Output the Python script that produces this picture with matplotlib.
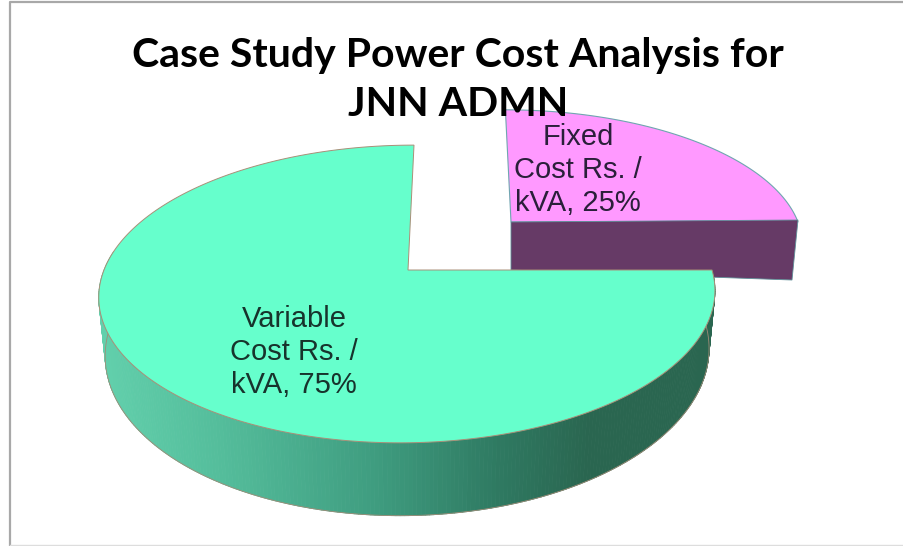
import numpy as np
import matplotlib
matplotlib.use('Agg')
import matplotlib.pyplot as plt
from matplotlib.collections import PolyCollection
from matplotlib.colors import LinearSegmentedColormap

labels = ['Fixed\nCost Rs. /\nkVA', 'Variable\nCost Rs. /\nkVA']
values = [25, 75]
title = 'Case Study Power Cost Analysis for\nJNN ADMN'


def project(ang, r, cx, cy, rx, ry, k, shear):
    # tilted disc seen in perspective, returns pixel coords
    u = r * np.cos(ang)
    v = r * np.sin(ang)
    w = 1 + k * v
    return cx + (rx * u + shear * ry * v) / w, cy - ry * v / w, v, w


# slice angles come from the values, clockwise from 12 o'clock
sweep = np.radians(np.array(values) / sum(values) * 360)
a_fixed = np.linspace(np.pi / 2, np.pi / 2 - sweep[0], 80)
a_var = np.linspace(np.pi / 2 - sweep[0], np.pi / 2 - sweep[0] - sweep[1], 400)

fig = plt.figure(figsize=(9.04, 5.46), dpi=100)
ax = fig.add_axes([0, 0, 1, 1])
ax.set_xlim(0, 904)
ax.set_ylim(546, 0)
ax.axis('off')

# frame of the screenshot
ax.plot([10, 10, 904], [546, 1.5, 1.5], color='#a8a8a8', lw=1.6, zorder=1)
ax.plot([10, 904], [545, 545], color='#dddddd', lw=1, zorder=1)

# fixed slice, pulled out towards the back
fx, fy, _, _ = project(a_fixed, 1.0, 511, 222, 287, 129, 0.15, -0.05)
ax.fill(np.r_[511, fx], np.r_[222, fy], facecolor='#ff99ff', edgecolor='#6fa6b0', lw=0.8, zorder=2)
wall_x = [511, 798, 792, 511]
wall_y = [222, 220, 280, 270]
ax.fill(wall_x, wall_y, facecolor='#663a66', edgecolor='#5f8f98', lw=0.6, zorder=3)

# variable slice, side wall drawn as small quads shaded across the pie
tx, ty, v, w = project(a_var, 1.0, 408, 270, 304, 145, 0.161, 0.048)
bx = 420 + (tx - 420) * 0.98
by = ty + 56 / w ** 1.5
quads = []
shade = []
for i in range(len(a_var) - 1):
    if np.sin(a_var[i]) < 0.12:
        quads.append([(tx[i], ty[i]), (tx[i + 1], ty[i + 1]), (bx[i + 1], by[i + 1]), (bx[i], by[i])])
        shade.append((tx[i] - 97) / (715 - 97))
wall_cmap = LinearSegmentedColormap.from_list('wall', [(0, '#62d0ac'), (0.2, '#54bd9b'), (0.45, '#3f9d80'),
                                                       (0.65, '#2f7a62'), (0.8, '#2a6650'), (1, '#2a6650')])
ax.add_collection(PolyCollection(quads, array=np.array(shade), cmap=wall_cmap, clim=(0, 1),
                                 edgecolors='face', linewidths=0.6, zorder=4))
keep = np.sin(a_var) < 0.12
ax.plot(bx[keep], by[keep], color='#a08c78', lw=0.6, zorder=4)
ax.fill(np.r_[408, tx], np.r_[270, ty], facecolor='#66ffcc', edgecolor='#a98f78', lw=0.7, zorder=5)

# data labels
ax.text(578, 170, f'{labels[0]}, {values[0]}%', ha='center', va='center', ma='center', fontsize=21,
        family='Liberation Sans', color='#2a1f3a', linespacing=1.24, zorder=7)
ax.text(294, 352, f'{labels[1]}, {values[1]}%', ha='center', va='center', ma='center', fontsize=21,
        family='Liberation Sans', color='#17332c', linespacing=1.24, zorder=7)

ax.text(458, 80, title, ha='center', va='center', ma='center', fontsize=29.5, fontweight='bold',
        family='Lato', color='black', linespacing=1.38, zorder=8)

fig.savefig('out.png', dpi=100, facecolor='white')
